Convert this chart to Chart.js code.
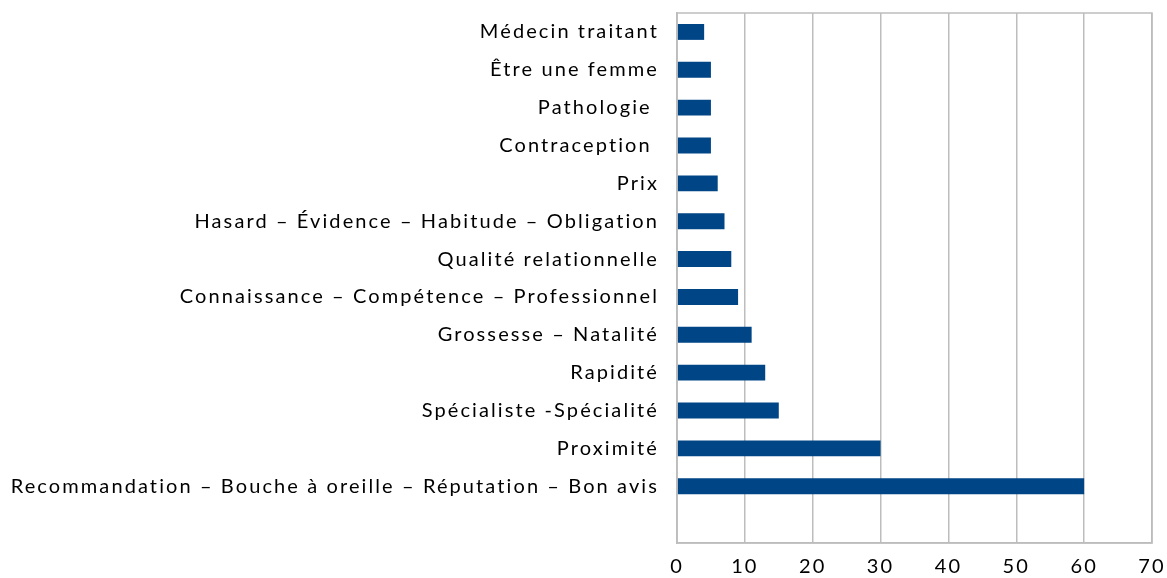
<!DOCTYPE html>
<html>
<head>
<meta charset="utf-8">
<script src="https://cdn.jsdelivr.net/npm/chart.js@4"></script>
<style>
html,body{margin:0;padding:0;background:#fff;}
#wrap{width:1167px;height:578px;position:relative;}
</style>
</head>
<body>
<div id="wrap"><canvas id="c" width="1167" height="578"></canvas></div>
<script>
const categories = [
  "Médecin traitant",
  "Être une femme",
  "Pathologie ",
  "Contraception ",
  "Prix",
  "Hasard – Évidence – Habitude – Obligation",
  "Qualité relationnelle",
  "Connaissance – Compétence – Professionnel",
  "Grossesse – Natalité",
  "Rapidité",
  "Spécialiste -Spécialité",
  "Proximité",
  "Recommandation – Bouche à oreille – Réputation – Bon avis",
  ""
];
const values = [4, 5, 5, 5, 6, 7, 8, 9, 11, 13, 15, 30, 60, null];
const xTicks = [0, 10, 20, 30, 40, 50, 60, 70];

const FONT = "Lato, 'Open Sans', sans-serif";
const GRID = "#bdbdbd";
const SPACING = '2.1px';

const spacing = {
  id: 'spacing',
  beforeUpdate(chart) { chart.ctx.letterSpacing = SPACING; },
  beforeLayout(chart) { chart.ctx.letterSpacing = SPACING; },
  beforeDraw(chart) { chart.ctx.letterSpacing = SPACING; }
};

const frame = {
  id: 'frame',
  afterDatasetsDraw(chart) {
    const a = chart.chartArea, c = chart.ctx;
    c.save();
    c.strokeStyle = GRID;
    c.lineWidth = 1.5;
    c.strokeRect(a.left, a.top, a.right - a.left, a.bottom - a.top);
    c.restore();
  }
};

new Chart(document.getElementById('c'), {
  type: 'bar',
  data: {
    labels: categories,
    datasets: [{
      data: values,
      backgroundColor: '#004586',
      borderWidth: 0,
      categoryPercentage: 1,
      barPercentage: 0.42
    }]
  },
  options: {
    indexAxis: 'y',
    responsive: false,
    animation: false,
    layout: { padding: { top: 13, right: 15, left: 0, bottom: 0 } },
    plugins: { legend: { display: false }, tooltip: { enabled: false } },
    scales: {
      x: {
        min: 0, max: 70,
        afterBuildTicks(scale) { scale.ticks = xTicks.map(v => ({ value: v })); },
        afterFit(scale) { scale.height = 35; scale.paddingLeft = 0; scale.paddingRight = 0; },
        grid: { color: GRID, lineWidth: 1.5, drawTicks: false },
        border: { color: GRID, width: 1.5 },
        ticks: { color: '#000', font: { family: FONT, size: 20 }, padding: 12 }
      },
      y: {
        afterFit(scale) { scale.width = 677; scale.paddingTop = 0; scale.paddingBottom = 0; },
        grid: { display: false, drawTicks: false },
        border: { color: GRID, width: 1.5 },
        ticks: { color: '#000', font: { family: FONT, size: 20 }, padding: 18, autoSkip: false }
      }
    }
  },
  plugins: [spacing, frame]
});
</script>
</body>
</html>
